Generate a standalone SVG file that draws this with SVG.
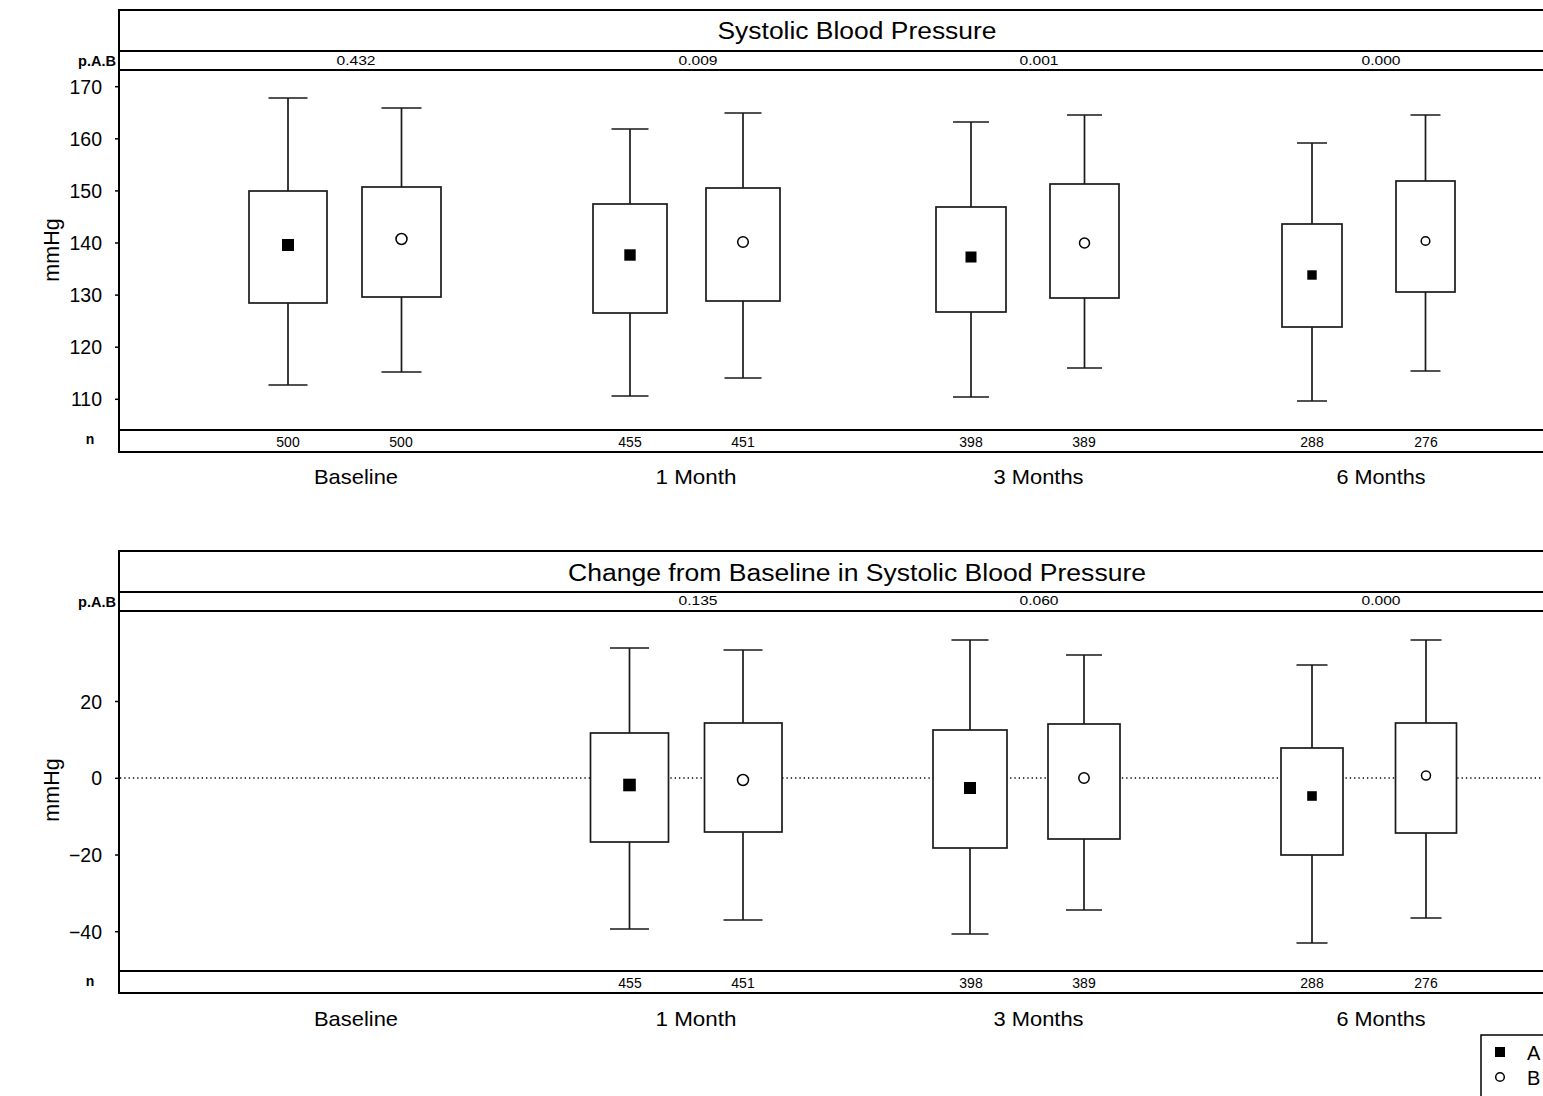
<svg xmlns="http://www.w3.org/2000/svg" width="1543" height="1096" viewBox="0 0 1543 1096">
<style>
text{font-family:"Liberation Sans",Arial,sans-serif;fill:#000}
.frame{fill:none;stroke:#000;stroke-width:2}
.band{stroke:#000;stroke-width:2}
.tick{stroke:#000;stroke-width:1.5}
.box{fill:#fff;stroke:#1a1a1a;stroke-width:1.7}
.wh{stroke:#1a1a1a;stroke-width:1.7;fill:none}
.mA{fill:#000}
.mB{fill:#fff;stroke:#000;stroke-width:1.5}
.ttl{font-size:23.5px;text-anchor:middle}
.pv{font-size:13.5px;text-anchor:middle}
.lbl{font-size:14px;font-weight:bold;text-anchor:end}
.nv{font-size:14px;text-anchor:middle}
.cat{font-size:21px;text-anchor:middle}
.yt{font-size:19.5px;text-anchor:end}
.yl{font-size:21.5px;text-anchor:middle}
.zero{stroke:#000;stroke-width:1.3;stroke-dasharray:1.3 3}
</style>

<!-- ===== Top panel ===== -->
<g id="top-panel">
<rect class="frame" x="119" y="10" width="1440" height="442"/>
<line class="band" x1="119" y1="51" x2="1560" y2="51"/>
<line class="band" x1="119" y1="70" x2="1560" y2="70"/>
<line class="band" x1="119" y1="430" x2="1560" y2="430"/>
<text class="ttl" x="857" y="39" textLength="279" lengthAdjust="spacingAndGlyphs">Systolic Blood Pressure</text>
<text class="lbl" x="116" y="66" textLength="38" lengthAdjust="spacingAndGlyphs">p.A.B</text>
<text class="lbl" x="90" y="444" style="text-anchor:middle">n</text>
<text class="pv" x="356" y="65" textLength="39" lengthAdjust="spacingAndGlyphs">0.432</text>
<text class="pv" x="698" y="65" textLength="39" lengthAdjust="spacingAndGlyphs">0.009</text>
<text class="pv" x="1039" y="65" textLength="39" lengthAdjust="spacingAndGlyphs">0.001</text>
<text class="pv" x="1381" y="65" textLength="39" lengthAdjust="spacingAndGlyphs">0.000</text>
<g id="top-yaxis">
<line class="tick" x1="115" y1="86.7" x2="119" y2="86.7"/>
<line class="tick" x1="115" y1="138.8" x2="119" y2="138.8"/>
<line class="tick" x1="115" y1="190.9" x2="119" y2="190.9"/>
<line class="tick" x1="115" y1="243" x2="119" y2="243"/>
<line class="tick" x1="115" y1="295.1" x2="119" y2="295.1"/>
<line class="tick" x1="115" y1="347.2" x2="119" y2="347.2"/>
<line class="tick" x1="115" y1="399.3" x2="119" y2="399.3"/>
<text class="yt" x="102" y="94">170</text>
<text class="yt" x="102" y="146">160</text>
<text class="yt" x="102" y="198">150</text>
<text class="yt" x="102" y="250">140</text>
<text class="yt" x="102" y="302">130</text>
<text class="yt" x="102" y="354">120</text>
<text class="yt" x="102" y="406">110</text>
<text class="yl" transform="translate(59,250) rotate(-90)">mmHg</text>
</g>
<text class="nv" x="288" y="447">500</text>
<text class="nv" x="401" y="447">500</text>
<text class="nv" x="630" y="447">455</text>
<text class="nv" x="743" y="447">451</text>
<text class="nv" x="971" y="447">398</text>
<text class="nv" x="1084" y="447">389</text>
<text class="nv" x="1312" y="447">288</text>
<text class="nv" x="1426" y="447">276</text>
<text class="cat" x="356" y="484" textLength="84" lengthAdjust="spacingAndGlyphs">Baseline</text>
<text class="cat" x="696" y="484" textLength="81" lengthAdjust="spacingAndGlyphs">1 Month</text>
<text class="cat" x="1038.5" y="484" textLength="90" lengthAdjust="spacingAndGlyphs">3 Months</text>
<text class="cat" x="1381" y="484" textLength="89" lengthAdjust="spacingAndGlyphs">6 Months</text>
</g>

<g id="top-boxes">
<g id="t-base-A">
<path class="wh" d="M288 191V98M268.5 98H307.5M288 303V385M268.5 385H307.5"/>
<rect class="box" x="249" y="191" width="78" height="112"/>
<rect class="mA" x="282" y="239" width="12" height="12"/>
</g>
<g id="t-base-B">
<path class="wh" d="M401.5 187V108M381.5 108H421.5M401.5 297V372M381.5 372H421.5"/>
<rect class="box" x="362" y="187" width="79" height="110"/>
<circle class="mB" cx="401.5" cy="239" r="5.5"/>
</g>
<g id="t-1m-A">
<path class="wh" d="M630 204V129M611.5 129H648.5M630 313V396M611.5 396H648.5"/>
<rect class="box" x="593" y="204" width="74" height="109"/>
<rect class="mA" x="624.3" y="249.3" width="11.4" height="11.4"/>
</g>
<g id="t-1m-B">
<path class="wh" d="M743 188V113M724.5 113H761.5M743 301V378M724.5 378H761.5"/>
<rect class="box" x="706" y="188" width="74" height="113"/>
<circle class="mB" cx="743" cy="242" r="5.3"/>
</g>
<g id="t-3m-A">
<path class="wh" d="M971 207V122M953 122H989M971 312V397M953 397H989"/>
<rect class="box" x="936" y="207" width="70" height="105"/>
<rect class="mA" x="965.5" y="251.5" width="11" height="11"/>
</g>
<g id="t-3m-B">
<path class="wh" d="M1084.5 184V115M1067 115H1102M1084.5 298V368M1067 368H1102"/>
<rect class="box" x="1050" y="184" width="69" height="114"/>
<circle class="mB" cx="1084.5" cy="243" r="5"/>
</g>
<g id="t-6m-A">
<path class="wh" d="M1312 224V143M1297 143H1327M1312 327V401M1297 401H1327"/>
<rect class="box" x="1282" y="224" width="60" height="103"/>
<rect class="mA" x="1307.3" y="270.3" width="9.4" height="9.4"/>
</g>
<g id="t-6m-B">
<path class="wh" d="M1425.5 181V115M1410.5 115H1440.5M1425.5 292V371M1410.5 371H1440.5"/>
<rect class="box" x="1396" y="181" width="59" height="111"/>
<circle class="mB" cx="1425.5" cy="241" r="4.3"/>
</g>
</g>

<!-- ===== Bottom panel ===== -->
<g id="bottom-panel">
<rect class="frame" x="119" y="551" width="1440" height="442"/>
<line class="band" x1="119" y1="592" x2="1560" y2="592"/>
<line class="band" x1="119" y1="611" x2="1560" y2="611"/>
<line class="band" x1="119" y1="971" x2="1560" y2="971"/>
<text class="ttl" x="857" y="581" textLength="578" lengthAdjust="spacingAndGlyphs">Change from Baseline in Systolic Blood Pressure</text>
<text class="lbl" x="116" y="607" textLength="38" lengthAdjust="spacingAndGlyphs">p.A.B</text>
<text class="lbl" x="90" y="986" style="text-anchor:middle">n</text>
<text class="pv" x="698" y="605" textLength="39" lengthAdjust="spacingAndGlyphs">0.135</text>
<text class="pv" x="1039" y="605" textLength="39" lengthAdjust="spacingAndGlyphs">0.060</text>
<text class="pv" x="1381" y="605" textLength="39" lengthAdjust="spacingAndGlyphs">0.000</text>
<g id="bottom-yaxis">
<line class="tick" x1="115" y1="701.5" x2="119" y2="701.5"/>
<line class="tick" x1="115" y1="778.3" x2="119" y2="778.3"/>
<line class="tick" x1="115" y1="855" x2="119" y2="855"/>
<line class="tick" x1="115" y1="931.7" x2="119" y2="931.7"/>
<text class="yt" x="102" y="708.5">20</text>
<text class="yt" x="102" y="785.3">0</text>
<text class="yt" x="102" y="862">−20</text>
<text class="yt" x="102" y="938.7">−40</text>
<text class="yl" transform="translate(59,790) rotate(-90)">mmHg</text>
</g>
<line class="zero" x1="120" y1="778" x2="1543" y2="778"/>
<text class="nv" x="630" y="988">455</text>
<text class="nv" x="743" y="988">451</text>
<text class="nv" x="971" y="988">398</text>
<text class="nv" x="1084" y="988">389</text>
<text class="nv" x="1312" y="988">288</text>
<text class="nv" x="1426" y="988">276</text>
<text class="cat" x="356" y="1026" textLength="84" lengthAdjust="spacingAndGlyphs">Baseline</text>
<text class="cat" x="696" y="1026" textLength="81" lengthAdjust="spacingAndGlyphs">1 Month</text>
<text class="cat" x="1038.5" y="1026" textLength="90" lengthAdjust="spacingAndGlyphs">3 Months</text>
<text class="cat" x="1381" y="1026" textLength="89" lengthAdjust="spacingAndGlyphs">6 Months</text>
</g>

<g id="bottom-boxes">
<g id="b-1m-A">
<path class="wh" d="M629.5 733V648M610 648H649M629.5 842V929M610 929H649"/>
<rect class="box" x="590.5" y="733" width="78" height="109"/>
<rect class="mA" x="623.2" y="778.7" width="12.6" height="12.6"/>
</g>
<g id="b-1m-B">
<path class="wh" d="M743 723V650M723.5 650H762.5M743 832V920M723.5 920H762.5"/>
<rect class="box" x="704.5" y="723" width="77.5" height="109"/>
<circle class="mB" cx="743" cy="780" r="5.5"/>
</g>
<g id="b-3m-A">
<path class="wh" d="M970 730V640M951.5 640H988.5M970 848V934M951.5 934H988.5"/>
<rect class="box" x="933" y="730" width="74" height="118"/>
<rect class="mA" x="964" y="782" width="12" height="12"/>
</g>
<g id="b-3m-B">
<path class="wh" d="M1084 724V655M1066 655H1102M1084 839V910M1066 910H1102"/>
<rect class="box" x="1048" y="724" width="72" height="115"/>
<circle class="mB" cx="1084" cy="778" r="5.2"/>
</g>
<g id="b-6m-A">
<path class="wh" d="M1312 748V665M1296.5 665H1327.5M1312 855V943M1296.5 943H1327.5"/>
<rect class="box" x="1281" y="748" width="62" height="107"/>
<rect class="mA" x="1307.2" y="791.2" width="9.6" height="9.6"/>
</g>
<g id="b-6m-B">
<path class="wh" d="M1426 723V640M1410.5 640H1441.5M1426 833V918M1410.5 918H1441.5"/>
<rect class="box" x="1395.5" y="723" width="61" height="110"/>
<circle class="mB" cx="1426" cy="775.5" r="4.5"/>
</g>
</g>

<!-- ===== Legend ===== -->
<g id="legend">
<rect class="frame" x="1481" y="1035" width="100" height="80" style="stroke-width:1.5"/>
<rect class="mA" x="1495" y="1047" width="10" height="10"/>
<circle class="mB" cx="1500" cy="1077" r="4.3"/>
<text x="1527" y="1060" style="font-size:20px">A</text>
<text x="1527" y="1085" style="font-size:20px">B</text>
</g>
</svg>
